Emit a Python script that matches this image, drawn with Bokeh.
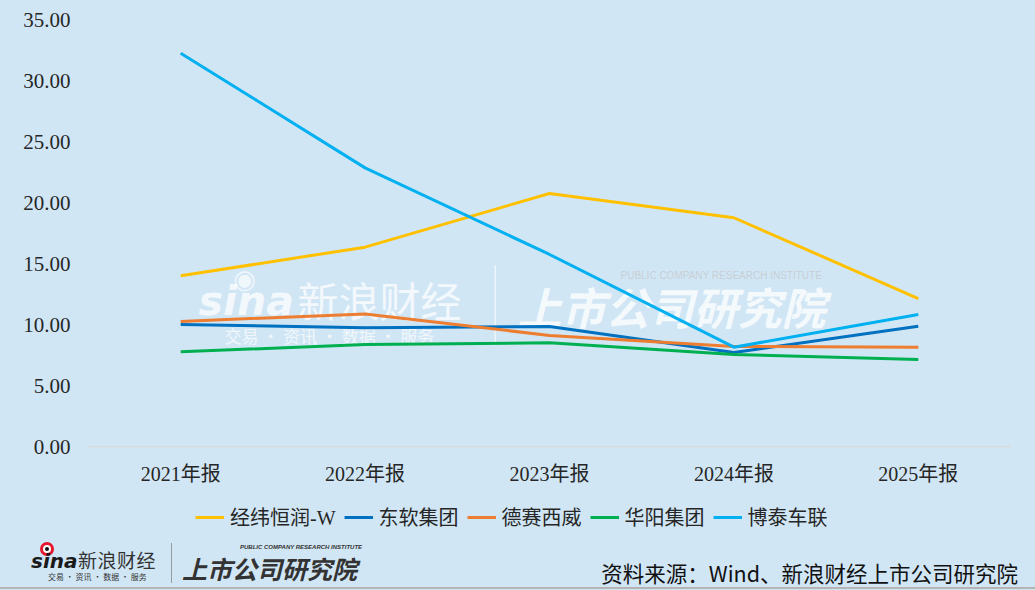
from bokeh.plotting import figure
from bokeh.layouts import column
from bokeh.models import (FactorRange, Range1d, Legend, LegendItem, SingleIntervalTicker,
                          NumeralTickFormatter, ColumnDataSource, Label, BoxAnnotation, Div)
from bokeh.embed import file_html
from bokeh.resources import INLINE

# ---------------- data ----------------
categories = ["2021年报", "2022年报", "2023年报", "2024年报", "2025年报"]
series_names = ["经纬恒润-W", "东软集团", "德赛西威", "华阳集团", "博泰车联"]
jingwei = [13.99, 16.34, 20.74, 18.75, 12.13]
dongruan = [10.00, 9.73, 9.84, 7.70, 9.86]
desai = [10.25, 10.87, 9.10, 8.20, 8.14]
huayang = [7.76, 8.36, 8.50, 7.54, 7.13]
botai = [32.24, 22.84, 15.74, 8.14, 10.82]
y_max = 35
y_tick_step = 5
source_text = "资料来源：Wind、新浪财经上市公司研究院"

colors = ["#FFC000", "#0070C0", "#ED7D31", "#00B050", "#00B0F0"]
BG = "#D1E6F5"
SERIF = "Liberation Serif, Noto Sans CJK SC"
CJK = "Noto Sans CJK SC"
W = 1035
H_MAIN = 490
H_LEG = 50
H_FOOT = 50
BGSTYLE = {"background-color": BG}

# ---------------- main chart ----------------
p = figure(x_range=FactorRange(*categories), y_range=Range1d(0, y_max),
           width=W, height=H_MAIN, output_backend="svg", toolbar_location=None,
           min_border_left=88, min_border_right=25, min_border_top=19,
           min_border_bottom=H_MAIN - 446,
           background_fill_color=BG, border_fill_color=None, outline_line_color=None,
           styles=BGSTYLE)

p.xgrid.grid_line_color = None
p.ygrid.grid_line_color = None

p.yaxis.ticker = SingleIntervalTicker(interval=y_tick_step)
p.yaxis.formatter = NumeralTickFormatter(format="0.00")
p.yaxis.axis_line_color = None
p.yaxis.major_tick_line_color = None
p.yaxis.minor_tick_line_color = None
p.yaxis.major_tick_out = 0
p.yaxis.major_label_standoff = 14
p.yaxis.major_label_text_font = SERIF
p.yaxis.major_label_text_font_size = "21px"
p.yaxis.major_label_text_color = "#262626"

p.xaxis.axis_line_color = "#D9D9D9"
p.xaxis.axis_line_width = 1.5
p.xaxis.major_tick_line_color = None
p.xaxis.minor_tick_line_color = None
p.xaxis.major_tick_out = 0
p.xaxis.major_label_standoff = 16
p.xaxis.major_label_text_font = SERIF
p.xaxis.major_label_text_font_size = "20px"
p.xaxis.major_label_text_color = "#262626"

# watermark (behind the lines)
wm = [
    dict(x=198, y=300, text="sina", text_font="DejaVu Sans", text_font_size="41px",
         text_font_style="bold italic", text_alpha=0.75),
    dict(x=244, y=278, text="◉", text_font="DejaVu Sans", text_font_size="26px",
         text_align="center", text_alpha=0.7),
    dict(x=297, y=298, text="新浪财经", text_font=CJK, text_font_size="41px", text_alpha=0.75),
    dict(x=224, y=335, text="交易  ·  资讯  ·  数据  ·  服务", text_font=CJK,
         text_font_size="17px", text_alpha=0.7),
    dict(x=517, y=305, text="上市公司研究院", text_font=CJK, text_font_size="44px",
         text_font_style="bold italic", text_alpha=0.8),
    dict(x=620, y=275, text="PUBLIC COMPANY RESEARCH INSTITUTE", text_font="Liberation Sans",
         text_font_size="10px", text_color="#C4C8CC", text_alpha=0.8),
]
for d in wm:
    kw = dict(x_units="canvas", y_units="canvas", text_baseline="middle",
              text_align="left", text_color="white", level="underlay")
    kw.update(d)
    p.add_layout(Label(**kw))
p.add_layout(BoxAnnotation(left=494, right=495.5, top=265, bottom=345,
                           left_units="canvas", right_units="canvas",
                           top_units="canvas", bottom_units="canvas",
                           fill_color="white", fill_alpha=0.6, line_color=None,
                           level="underlay"))

series_values = [jingwei, dongruan, desai, huayang, botai]
for name, vals, col in zip(series_names, series_values, colors):
    src = ColumnDataSource(dict(x=categories, y=vals))
    p.line("x", "y", source=src, line_color=col, line_width=3)

# ---------------- legend strip ----------------
lg = figure(x_range=Range1d(0, 1), y_range=Range1d(0, 1), width=W, height=H_LEG,
            output_backend="svg", toolbar_location=None, x_axis_type=None, y_axis_type=None,
            min_border=0, background_fill_color=BG, border_fill_color=None,
            outline_line_color=None, styles=BGSTYLE)
lg.grid.visible = False
nan = float("nan")
items = []
for name, col in zip(series_names, colors):
    r = lg.line(x=[nan], y=[nan], line_color=col, line_width=3)
    items.append(LegendItem(label=name, renderers=[r]))
legend = Legend(items=items, orientation="horizontal", location=(107, 9),
                glyph_width=29, glyph_height=20, label_standoff=6, spacing=8,
                padding=0, margin=0, border_line_color=None, background_fill_alpha=0,
                label_text_font=SERIF, label_text_font_size="20px",
                label_text_color="#262626", label_height=20)
lg.add_layout(legend, "center")

# ---------------- footer (logos + source) ----------------
T = H_MAIN + H_LEG  # canvas y where the footer starts


def span(left, cy, size, text, font, style="", color="#333333", right=None):
    top = cy - T - size / 2.0
    pos = "right:%dpx;" % right if right is not None else "left:%dpx;" % left
    return ('<span style="position:absolute;%stop:%.1fpx;font-family:%s;font-size:%spx;'
            'line-height:%spx;white-space:nowrap;color:%s;%s">%s</span>'
            % (pos, top, font, size, size, color, style, text))


def dot(cx, cy, r, color):
    return ('<span style="position:absolute;left:%.1fpx;top:%.1fpx;width:%dpx;height:%dpx;'
            'border-radius:50%%;background:%s;"></span>' % (cx - r, cy - T - r, 2 * r, 2 * r, color))


parts = [
    dot(47, 549, 7, "#E6162D"),
    dot(47, 549, 4, "#FFFFFF"),
    dot(47, 549, 2, "#111111"),
    span(31, 561, 20, "sina", "'DejaVu Sans'", "font-weight:bold;font-style:italic;", "#1A1A1A"),
    span(78, 559, 19, "新浪财经", "'Noto Sans CJK SC'", "letter-spacing:0.5px;"),
    span(48, 577, 8, "交易 · 资讯 · 数据 · 服务", "'Noto Sans CJK SC'"),
    '<span style="position:absolute;left:171px;top:%dpx;width:1px;height:40px;'
    'background:#9A9A9A;"></span>' % (543 - T),
    span(182, 568, 25, "上市公司研究院", "'Noto Sans CJK SC'",
         "font-weight:bold;font-style:italic;"),
    span(240, 547, 6, "PUBLIC COMPANY RESEARCH INSTITUTE", "'Liberation Sans'",
         "font-weight:bold;font-style:italic;"),
    span(0, 573, 21.5, source_text, "'Noto Sans CJK SC'", "", "#111111", right=17),
    '<span style="position:absolute;left:0px;top:%dpx;width:%dpx;height:2px;'
    'background:#B4B4B4;"></span>' % (587 - T, W),
]
html_footer = ('<div style="position:relative;width:%dpx;height:%dpx;margin:0;padding:0;'
               'background:%s;">%s</div>' % (W, H_FOOT, BG, "".join(parts)))
footer = Div(text=html_footer, width=W, height=H_FOOT, margin=0,
             styles={"background-color": BG, "margin": "0", "padding": "0"})

layout = column(p, lg, footer, spacing=0, styles=BGSTYLE)
open("out.html", "w").write(file_html(layout, INLINE))
